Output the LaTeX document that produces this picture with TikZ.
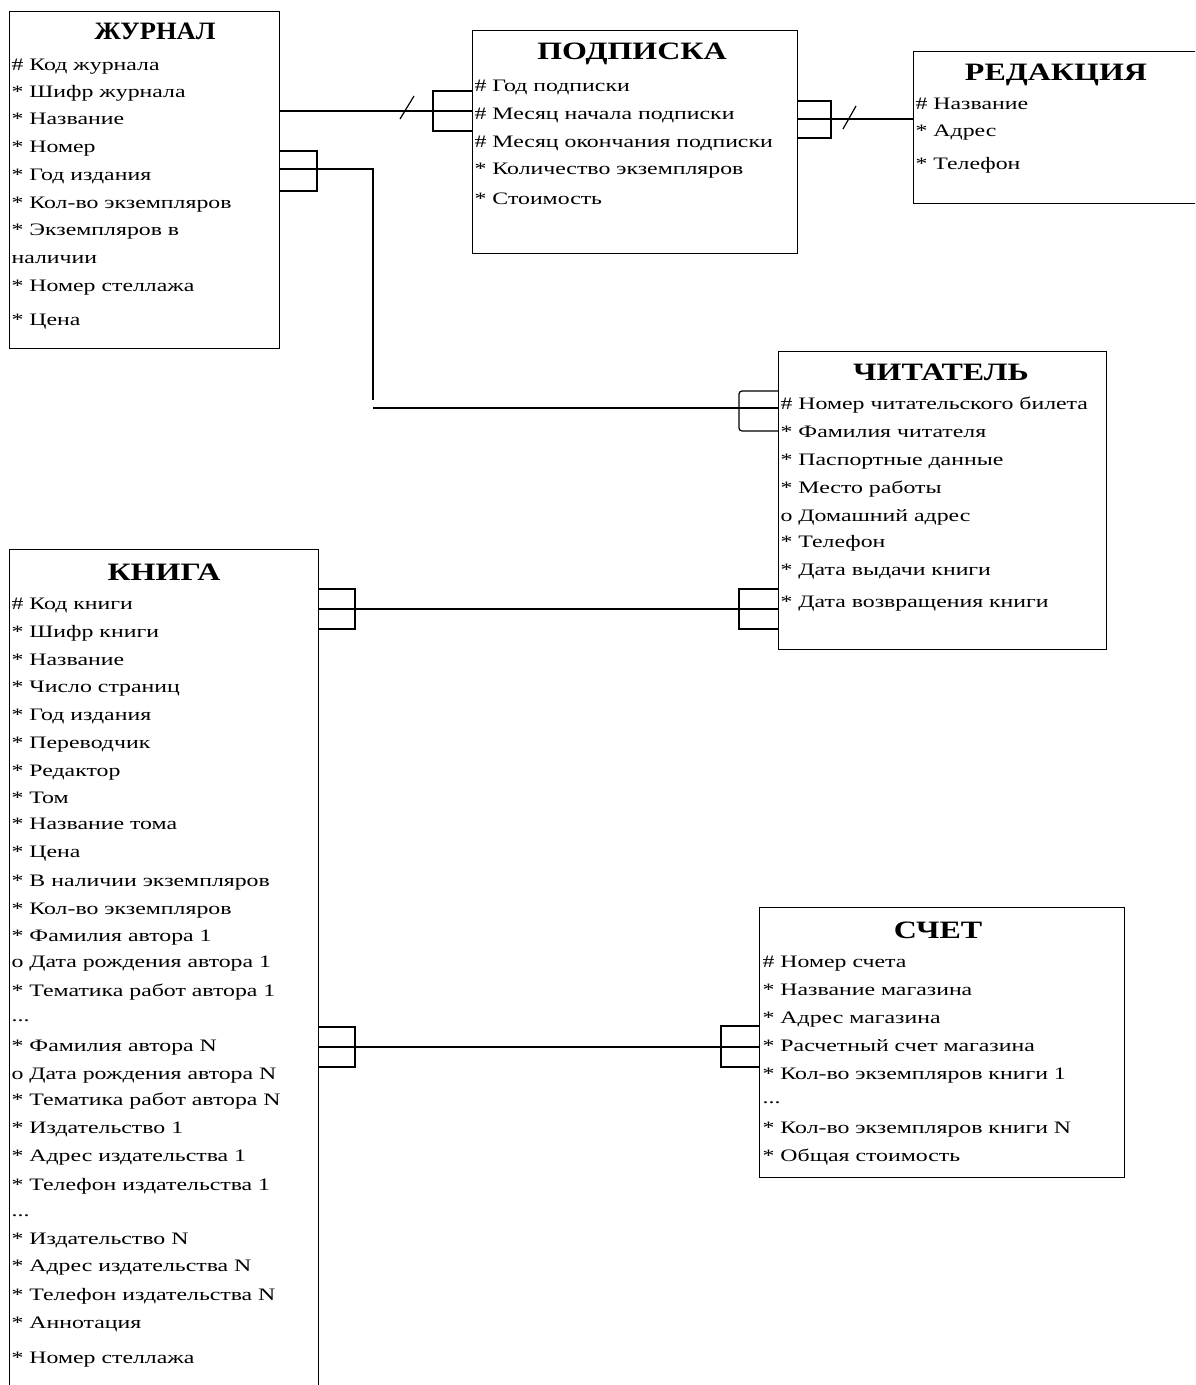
\documentclass[tikz,border=0pt]{standalone}
\usepackage{fontspec}
\setmainfont{Liberation Serif}
\newfontfamily\attrfont[FakeStretch=1.36]{Liberation Serif}
\newfontfamily\headfont[FakeStretch=1.28]{Liberation Serif}
\newfontfamily\headfontnarrow[FakeStretch=1.06]{Liberation Serif}
\begin{document}
\begin{tikzpicture}[x=1pt,y=-1pt,
  line width=1.2pt, line join=miter,
  ent/.style={draw, rectangle, anchor=north west, inner sep=0pt},
  ttl/.style={font=\headfont\fontsize{25}{25}\selectfont\bfseries, anchor=base, inner sep=0pt},
  ttlnarrow/.style={ttl, font=\headfontnarrow\fontsize{25}{25}\selectfont\bfseries},
  row/.style={font=\attrfont\fontsize{17.5}{17.5}\selectfont, anchor=base west, inner sep=0pt},
  lnk/.style={draw, line width=1.2pt}]
\useasboundingbox (0,0) rectangle (1195,1385);
\clip (0,0) rectangle (1195,1385);

% ---------- entity boxes ----------
\node[ent, minimum width=270, minimum height=337] (jur)   at (9,11)    {};
\node[ent, minimum width=325, minimum height=223] (pod)   at (472,30)  {};
\node[ent, minimum width=300, minimum height=152] (red)   at (913,51)  {};
\node[ent, minimum width=328, minimum height=298] (chit)  at (778,351) {};
\node[ent, minimum width=309, minimum height=860] (kniga) at (9,549)   {};
\node[ent, minimum width=365, minimum height=270] (schet) at (759,907) {};

% ---------- titles ----------
\node[ttlnarrow] (jur-t) at (155,39)  {ЖУРНАЛ};
\node[ttl] (pod-t)   at (632,59)  {ПОДПИСКА};
\node[ttl] (red-t)   at (1056,80) {РЕДАКЦИЯ};
\node[ttl] (chit-t)  at (941,380) {ЧИТАТЕЛЬ};
\node[ttl] (kniga-t) at (164,580) {КНИГА};
\node[ttl] (schet-t) at (938,938) {СЧЕТ};

% ---------- attributes ----------
\foreach \t/\y [count=\i] in {
  {\# Код журнала}/64, {* Шифр журнала}/91, {* Название}/118, {* Номер}/146,
  {* Год издания}/174, {* Кол-во экземпляров}/202, {* Экземпляров в}/229,
  {наличии}/257, {* Номер стеллажа}/285, {* Цена}/319}
  \node[row] (jur-\i) at (11,\y+6) {\t};

\foreach \t/\y [count=\i] in {
  {\# Год подписки}/85, {\# Месяц начала подписки}/113,
  {\# Месяц окончания подписки}/141, {* Количество экземпляров}/168,
  {* Стоимость}/198}
  \node[row] (pod-\i) at (474,\y+6) {\t};

\foreach \t/\y [count=\i] in {
  {\# Название}/103, {* Адрес}/130, {* Телефон}/163}
  \node[row] (red-\i) at (915,\y+6) {\t};

\foreach \t/\y [count=\i] in {
  {\# Номер читательского билета}/403, {* Фамилия читателя}/431,
  {* Паспортные данные}/459, {* Место работы}/487, {o Домашний адрес}/515,
  {* Телефон}/541, {* Дата выдачи книги}/569, {* Дата возвращения книги}/601}
  \node[row] (chit-\i) at (780,\y+6) {\t};

\foreach \t/\y [count=\i] in {
  {\# Код книги}/603, {* Шифр книги}/631, {* Название}/659,
  {* Число страниц}/686, {* Год издания}/714, {* Переводчик}/742,
  {* Редактор}/770, {* Том}/797, {* Название тома}/823, {* Цена}/851,
  {* В наличии экземпляров}/880, {* Кол-во экземпляров}/908,
  {* Фамилия автора 1}/935, {o Дата рождения автора 1}/961,
  {* Тематика работ автора 1}/990, {...}/1015, {* Фамилия автора N}/1045,
  {o Дата рождения автора N}/1073, {* Тематика работ автора N}/1099,
  {* Издательство 1}/1127, {* Адрес издательства 1}/1155,
  {* Телефон издательства 1}/1184, {...}/1210, {* Издательство N}/1238,
  {* Адрес издательства N}/1265, {* Телефон издательства N}/1294,
  {* Аннотация}/1322, {* Номер стеллажа}/1357}
  \node[row] (kniga-\i) at (11,\y+6) {\t};

\foreach \t/\y [count=\i] in {
  {\# Номер счета}/961, {* Название магазина}/989, {* Адрес магазина}/1017,
  {* Расчетный счет магазина}/1045, {* Кол-во экземпляров книги 1}/1073,
  {...}/1097, {* Кол-во экземпляров книги N}/1127, {* Общая стоимость}/1155}
  \node[row] (schet-\i) at (762,\y+6) {\t};

% ---------- relationships ----------
% ЖУРНАЛ -- ПОДПИСКА
\draw[lnk] (jur.east |- 0,111) -- (pod.west |- 0,111);
\draw[lnk] (400,119) -- (414,96);
\draw[lnk] (pod.west |- 0,91) -| (433,131) -- (pod.west |- 0,131);

% ПОДПИСКА -- РЕДАКЦИЯ
\draw[lnk] (pod.east |- 0,119) -- (red.west |- 0,119);
\draw[lnk] (843,129) -- (856,106);
\draw[lnk] (pod.east |- 0,101) -| (831,138) -- (pod.east |- 0,138);

% ЖУРНАЛ -- ЧИТАТЕЛЬ
\coordinate (bendA) at (373,400);
\coordinate (bendB) at (373,408);
\draw[lnk] (jur.east |- 0,151) -| (317,191) -- (jur.east |- 0,191);
\draw[lnk] (jur.east |- 0,169) -| (bendA);
\draw[lnk] (bendB) -- (chit.west |- bendB);
\draw[lnk, rounded corners=3pt] (chit.west |- 0,391) -| (739,431) -- (chit.west |- 0,431);

% КНИГА -- ЧИТАТЕЛЬ
\draw[lnk] (kniga.east |- 0,609) -- (chit.west |- 0,609);
\draw[lnk] (kniga.east |- 0,589) -| (355,629) -- (kniga.east |- 0,629);
\draw[lnk] (chit.west |- 0,589) -| (739,629) -- (chit.west |- 0,629);

% КНИГА -- СЧЕТ
\draw[lnk] (kniga.east |- 0,1047) -- (schet.west |- 0,1047);
\draw[lnk] (kniga.east |- 0,1027) -| (355,1067) -- (kniga.east |- 0,1067);
\draw[lnk] (schet.west |- 0,1026) -| (721,1067) -- (schet.west |- 0,1067);
\end{tikzpicture}
\end{document}
